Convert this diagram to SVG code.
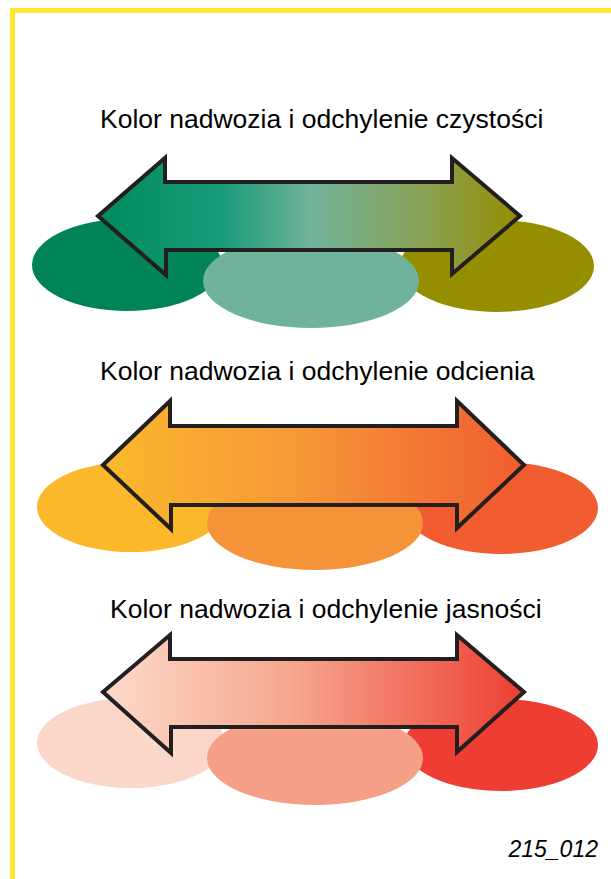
<svg xmlns="http://www.w3.org/2000/svg" width="611" height="879" viewBox="0 0 611 879">
<defs>
<style>
.t{font-family:"Liberation Sans",Arial,sans-serif;font-size:26.5px;fill:#000;text-anchor:start}
.arr{stroke:#231f20;stroke-width:4;stroke-linejoin:miter}
</style>
<linearGradient id="g1" x1="0" y1="0" x2="1" y2="0">
<stop offset="0" stop-color="#008a5e"/>
<stop offset="0.3" stop-color="#1a9c78"/>
<stop offset="0.5" stop-color="#6fb39b"/>
<stop offset="0.75" stop-color="#88a35c"/>
<stop offset="1" stop-color="#948e00"/>
</linearGradient>
<linearGradient id="g2" x1="0" y1="0" x2="1" y2="0">
<stop offset="0" stop-color="#fbb92b"/>
<stop offset="0.45" stop-color="#f69938"/>
<stop offset="1" stop-color="#f15d30"/>
</linearGradient>
<linearGradient id="g3" x1="0" y1="0" x2="1" y2="0">
<stop offset="0" stop-color="#fcdacc"/>
<stop offset="0.45" stop-color="#f6a68d"/>
<stop offset="1" stop-color="#ee3e33"/>
</linearGradient>
</defs>
<rect width="611" height="879" fill="#fff"/>
<g id="border" fill="none" stroke="#ffe630">
<line x1="10" y1="10.5" x2="611" y2="10.5" stroke-width="5"/>
<line x1="12.5" y1="8" x2="12.5" y2="879" stroke-width="5"/>
</g>
<g id="group1">
<text class="t" x="100" y="128">Kolor nadwozia i odchylenie czystości</text>
<ellipse cx="127" cy="265" rx="95" ry="46" fill="#008457"/>
<ellipse cx="497" cy="266" rx="97" ry="46" fill="#958f00"/>
<ellipse cx="311" cy="281" rx="108" ry="47" fill="#6fb39b"/>
<path class="arr" fill="url(#g1)" d="M98,216 L165,158 L165,182 L452,182 L452,158 L520,216 L452,274 L452,250 L166,250 L166,275 Z"/>
</g>
<g id="group2">
<text class="t" x="100" y="380">Kolor nadwozia i odchylenie odcienia</text>
<ellipse cx="131" cy="507" rx="94" ry="45" fill="#fbb82b"/>
<ellipse cx="501" cy="508" rx="97" ry="46" fill="#f15d30"/>
<ellipse cx="315" cy="523" rx="108" ry="47" fill="#f59339"/>
<path class="arr" fill="url(#g2)" d="M103,465 L170,401 L170,426 L457,426 L457,401 L524,465 L457,528 L457,505 L171,505 L171,529 Z"/>
</g>
<g id="group3">
<text class="t" x="110" y="618">Kolor nadwozia i odchylenie jasności</text>
<ellipse cx="131" cy="743" rx="94" ry="45" fill="#fbd7c9"/>
<ellipse cx="501" cy="745" rx="97" ry="46" fill="#ee3e33"/>
<ellipse cx="315" cy="758" rx="108" ry="47" fill="#f59f87"/>
<path class="arr" fill="url(#g3)" d="M103,692 L170,635 L170,659 L457,659 L457,635 L524,692 L457,752 L457,727 L171,727 L171,753 Z"/>
</g>
<text id="code" x="598" y="857" font-family="Liberation Sans, Arial, sans-serif" font-size="23" font-style="italic" text-anchor="end">215_012</text>
</svg>
